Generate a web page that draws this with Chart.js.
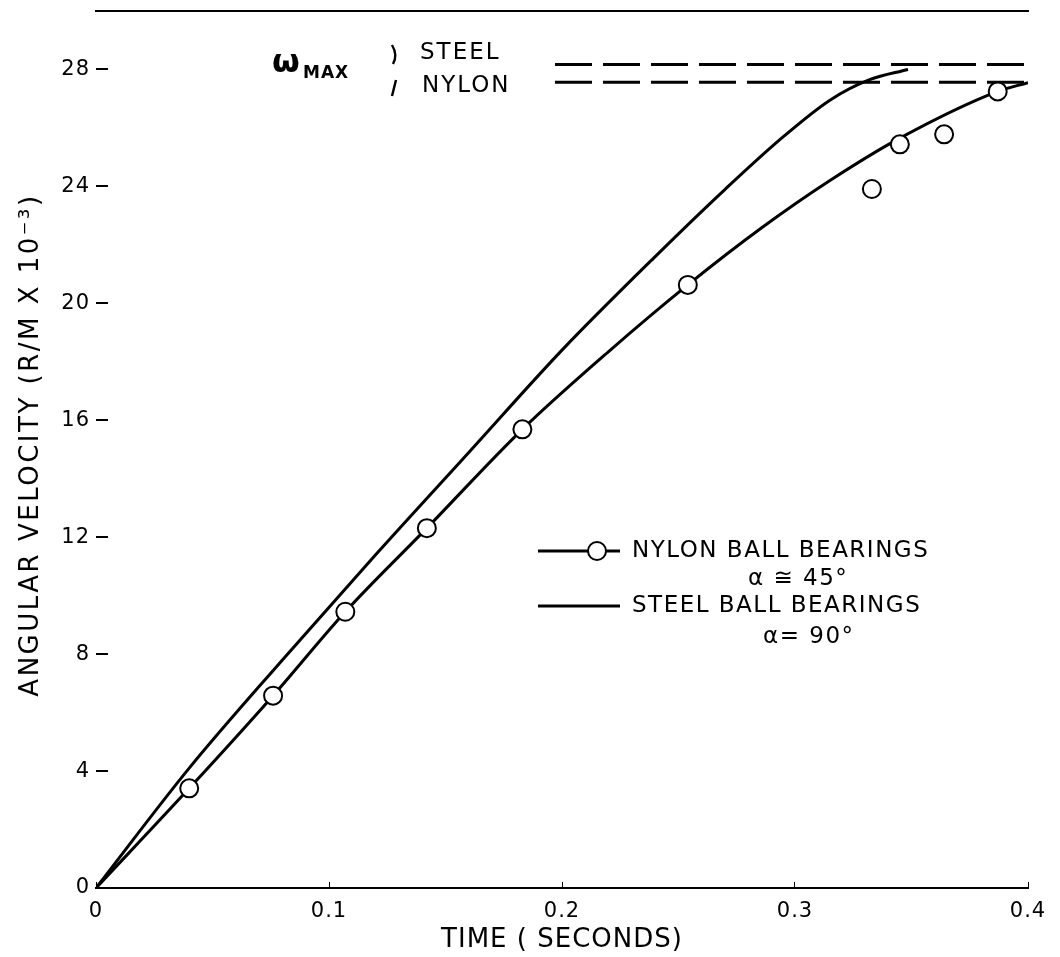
<!DOCTYPE html>
<html>
<head>
<meta charset="utf-8">
<script src="https://cdn.jsdelivr.net/npm/chart.js@4.4.1/dist/chart.umd.min.js"></script>
<style>
html,body{margin:0;padding:0;background:#fff;}
#wrap{width:1060px;height:957px;position:relative;}
</style>
</head>
<body>
<div id="wrap"><canvas id="c"></canvas></div>
<script>
// ---- data ----
const xTickValues = [0, 0.1, 0.2, 0.3, 0.4];
const xTickLabels = ['0', '0.1', '0.2', '0.3', '0.4'];
const yTickValues = [0, 4, 8, 12, 16, 20, 24, 28];

// measured nylon ball-bearing points (circles)
const nylonPointT = [0.040, 0.076, 0.107, 0.142, 0.183, 0.254, 0.333, 0.345, 0.364, 0.387];
const nylonPointV = [3.41, 6.58, 9.45, 12.31, 15.69, 20.63, 23.91, 25.44, 25.78, 27.25];

// nylon fitted curve
const nylonCurveT = [0, 0.040, 0.076, 0.107, 0.142, 0.183, 0.220, 0.254, 0.286, 0.315, 0.345, 0.387, 0.400];
const nylonCurveV = [0, 3.41, 6.58, 9.45, 12.31, 15.69, 18.35, 20.63, 22.6, 24.2, 25.65, 27.25, 27.55];

// steel curve
const steelCurveT = [0, 0.04, 0.08, 0.12, 0.16, 0.20, 0.24, 0.27, 0.295, 0.315, 0.332, 0.3485];
const steelCurveV = [0, 4.1, 7.8, 11.4, 14.9, 18.4, 21.6, 23.9, 25.7, 26.95, 27.65, 28.0];

// omega max dashed levels
const omegaMaxT = [0.197, 0.4];
const steelMaxV = [28.17, 28.17];
const nylonMaxV = [27.56, 27.56];

const yTitle = 'ANGULAR VELOCITY (R/M X 10\u207B\u00B3)';
const xTitle = 'TIME ( SECONDS)';
const legendLabels = ['NYLON BALL BEARINGS', '\u03B1 \u2245 45\u00B0', 'STEEL BALL BEARINGS', '\u03B1= 90\u00B0'];

// ---- build ----
const zip = (t, v) => t.map((x, i) => ({x: x, y: v[i]}));
const FONT = "'DejaVu Sans', 'Liberation Sans', sans-serif";

function setSpacing(chart, s) { try { chart.ctx.letterSpacing = s; } catch (e) {} }

const overlay = {
  id: 'overlay',
  beforeUpdate(chart) { setSpacing(chart, '1px'); },
  beforeDraw(chart) { setSpacing(chart, '1px'); },
  afterDraw(chart) {
    const ctx = chart.ctx;
    ctx.save();
    ctx.fillStyle = '#000';
    ctx.strokeStyle = '#000';
    ctx.textBaseline = 'middle';
    ctx.textAlign = 'left';

    // y axis title
    ctx.save();
    ctx.translate(31, 445);
    ctx.rotate(-Math.PI / 2);
    ctx.font = '26px ' + FONT;
    ctx.letterSpacing = '2.5px';
    ctx.textAlign = 'center';
    ctx.fillText(yTitle, 0, 0);
    ctx.restore();

    // omega max annotation
    ctx.letterSpacing = '0px';
    ctx.font = 'bold 32px ' + FONT;
    ctx.textBaseline = 'alphabetic';
    ctx.fillText('\u03C9', 272, 72);
    ctx.font = 'bold 17px ' + FONT;
    ctx.letterSpacing = '1px';
    ctx.fillText('MAX', 303, 78);
    ctx.lineWidth = 2.4;
    ctx.beginPath(); ctx.moveTo(392, 45); ctx.quadraticCurveTo(398, 55, 393, 64); ctx.stroke();
    ctx.beginPath(); ctx.moveTo(396, 80); ctx.lineTo(392, 96); ctx.stroke();
    ctx.textBaseline = 'middle';
    ctx.font = '23px ' + FONT;
    ctx.letterSpacing = '2px';
    ctx.fillText('STEEL', 420, 53);
    ctx.fillText('NYLON', 422, 86);

    // legend
    ctx.lineWidth = 3;
    ctx.beginPath(); ctx.moveTo(538, 551); ctx.lineTo(588, 551); ctx.stroke();
    ctx.beginPath(); ctx.moveTo(606, 551); ctx.lineTo(620, 551); ctx.stroke();
    ctx.lineWidth = 2;
    ctx.beginPath(); ctx.arc(597, 551, 9, 0, Math.PI * 2);
    ctx.fillStyle = '#fff'; ctx.fill(); ctx.stroke();
    ctx.fillStyle = '#000';
    ctx.lineWidth = 3;
    ctx.beginPath(); ctx.moveTo(538, 606); ctx.lineTo(620, 606); ctx.stroke();

    ctx.font = '23px ' + FONT;
    ctx.letterSpacing = '1.5px';
    ctx.fillText(legendLabels[0], 632, 551);
    ctx.fillText(legendLabels[1], 748, 579);
    ctx.fillText(legendLabels[2], 632, 606);
    ctx.fillText(legendLabels[3], 763, 637);
    ctx.restore();
  }
};

const lineStyle = {
  showLine: true, borderColor: '#000', borderWidth: 3, pointRadius: 0,
  cubicInterpolationMode: 'monotone', fill: false, order: 1
};

new Chart(document.getElementById('c'), {
  type: 'scatter',
  data: {
    datasets: [
      Object.assign({label: 'Nylon curve', data: zip(nylonCurveT, nylonCurveV)}, lineStyle),
      Object.assign({label: 'Steel ball bearings', data: zip(steelCurveT, steelCurveV)}, lineStyle),
      Object.assign({label: 'Steel max', data: zip(omegaMaxT, steelMaxV), borderDash: [37, 11]}, lineStyle),
      Object.assign({label: 'Nylon max', data: zip(omegaMaxT, nylonMaxV), borderDash: [37, 11]}, lineStyle),
      {
        label: 'Nylon ball bearings', data: zip(nylonPointT, nylonPointV),
        showLine: false, pointRadius: 9, pointBackgroundColor: '#fff',
        pointBorderColor: '#000', pointBorderWidth: 2, order: 0
      }
    ]
  },
  options: {
    responsive: true,
    maintainAspectRatio: false,
    animation: false,
    events: [],
    layout: {padding: {top: 10, right: 32, bottom: 0, left: 0}},
    plugins: {legend: {display: false}, tooltip: {enabled: false}},
    scales: {
      x: {
        type: 'linear', position: 'bottom', min: 0, max: 0.4,
        afterBuildTicks(s) { s.ticks = xTickValues.map(v => ({value: v})); },
        afterFit(s) { s.height = 69; s.paddingLeft = 0; s.paddingRight = 0; },
        border: {display: true, color: '#000', width: 2},
        grid: {drawOnChartArea: false, drawTicks: true, tickLength: -6, color: '#000', lineWidth: 1},
        ticks: {
          padding: 17, color: '#000', maxRotation: 0, autoSkip: false,
          font: {family: FONT, size: 21},
          callback: (v, i) => xTickLabels[i]
        },
        title: {display: true, text: xTitle, color: '#000', font: {family: FONT, size: 26}, padding: {bottom: 1}}
      },
      x2: {
        type: 'linear', position: 'top', min: 0, max: 0.4,
        afterFit(s) { s.height = 0; s.paddingLeft = 0; s.paddingRight = 0; },
        border: {display: true, color: '#000', width: 2},
        grid: {drawOnChartArea: false, drawTicks: false},
        ticks: {display: false}
      },
      y: {
        type: 'linear', position: 'left', min: 0, max: 30,
        afterBuildTicks(s) { s.ticks = yTickValues.map(v => ({value: v})); },
        afterFit(s) { s.width = 96; s.paddingTop = 0; s.paddingBottom = 0; },
        border: {display: false},
        grid: {drawOnChartArea: false, drawTicks: true, tickLength: -12, color: '#000', lineWidth: 2},
        ticks: {padding: 18, color: '#000', font: {family: FONT, size: 21}, autoSkip: false}
      }
    }
  },
  plugins: [overlay]
});
</script>
</body>
</html>
